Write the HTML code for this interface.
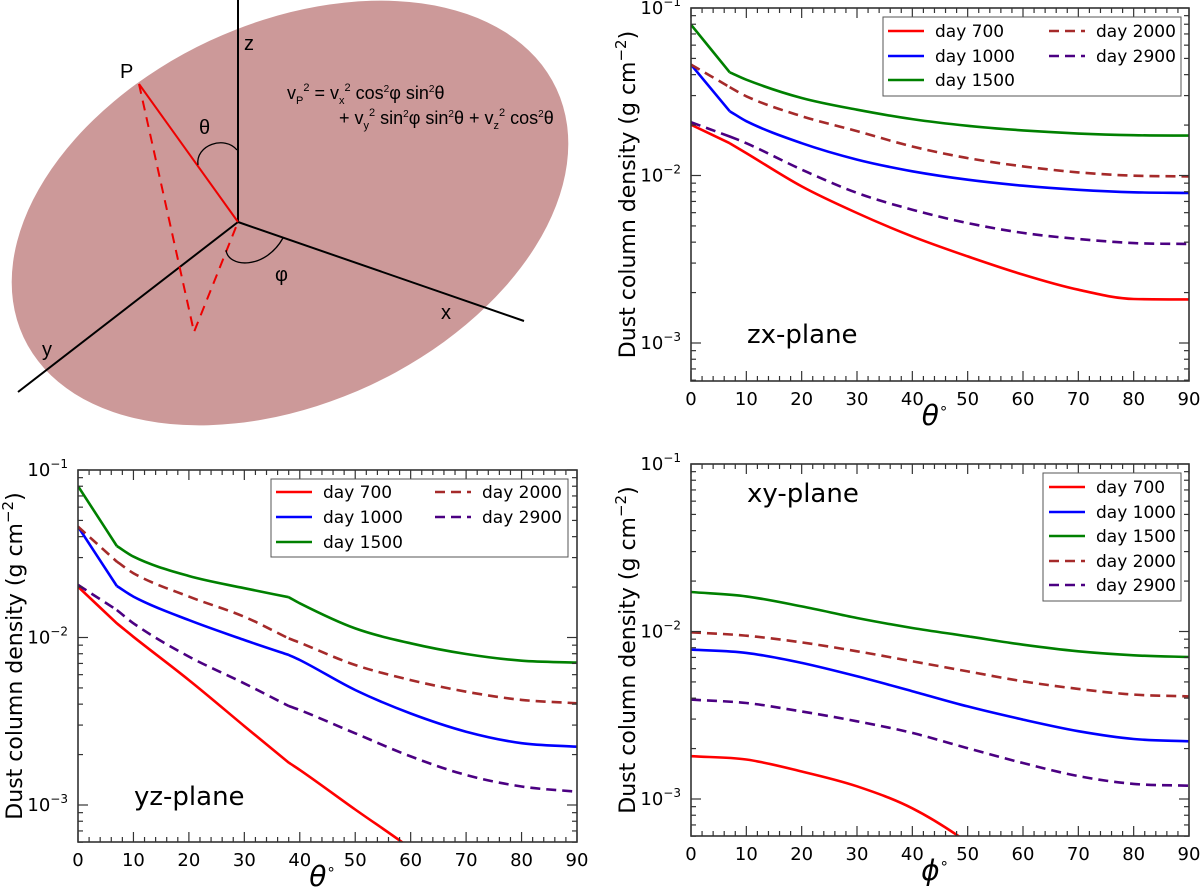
<!DOCTYPE html>
<html><head><meta charset="utf-8"><style>
html,body{margin:0;padding:0;background:#fff;overflow:hidden;width:1200px;height:895px;}
svg{display:block;font-family:"DejaVu Sans","Liberation Sans",sans-serif;}
</style></head><body>
<svg id="fig" width="1200" height="895" viewBox="0 0 1200 895" xmlns="http://www.w3.org/2000/svg">
<g id="diagram">
  <ellipse cx="290" cy="213" rx="294" ry="190" transform="rotate(-25 290 213)" fill="#cc9999"/>
  <line x1="238" y1="0" x2="238" y2="222" stroke="#000" stroke-width="2"/>
  <line x1="238" y1="222" x2="524" y2="321" stroke="#000" stroke-width="2"/>
  <line x1="238" y1="222" x2="18" y2="392" stroke="#000" stroke-width="2"/>
  <line x1="139" y1="84" x2="238" y2="222" stroke="#e00" stroke-width="2"/>
  <polyline points="139,84 194,332 238,222" fill="none" stroke="#e00" stroke-width="2" stroke-dasharray="10,7"/>
  <path d="M198,165 C195,145 225,135 237,150" fill="none" stroke="#000" stroke-width="1.3"/>
  <path d="M226,250 C228,268 265,270 283,238" fill="none" stroke="#000" stroke-width="1.3"/>
  <g font-family="Liberation Sans, sans-serif" font-size="20" fill="#000">
    <text x="244" y="50">z</text>
    <text x="120" y="78">P</text>
    <text x="199" y="134">θ</text>
    <text x="275" y="281">φ</text>
    <text x="441" y="319">x</text>
    <text x="42" y="356">y</text>
  </g>
  <g font-family="Liberation Sans, sans-serif" font-size="18" fill="#000">
    <text x="287" y="99">v<tspan font-size="11" dy="5">P</tspan><tspan font-size="11" dy="-13">2</tspan><tspan dy="8"> = v</tspan><tspan font-size="11" dy="5">x</tspan><tspan font-size="11" dy="-13">2</tspan><tspan dy="8"> cos</tspan><tspan font-size="10" dy="-7">2</tspan><tspan dy="7">φ sin</tspan><tspan font-size="10" dy="-7">2</tspan><tspan dy="7">θ</tspan></text>
    <text x="339" y="124">+ v<tspan font-size="11" dy="5">y</tspan><tspan font-size="11" dy="-13">2</tspan><tspan dy="8"> sin</tspan><tspan font-size="10" dy="-7">2</tspan><tspan dy="7">φ sin</tspan><tspan font-size="10" dy="-7">2</tspan><tspan dy="7">θ + v</tspan><tspan font-size="11" dy="5">z</tspan><tspan font-size="11" dy="-13">2</tspan><tspan dy="8"> cos</tspan><tspan font-size="10" dy="-7">2</tspan><tspan dy="7">θ</tspan></text>
  </g>
</g>
</svg>
<script>
// ---------- data ----------
const seriesNames = ["day 700","day 1000","day 1500","day 2000","day 2900"];
const seriesColors = ["#ff0000","#0000ff","#008000","#a52a2a","#4b0082"];
const seriesDashed = [false,false,false,true,true];

const zxAngles = [0,7,10,20,30,40,50,60,70,80,90];
const zxKinks = [7];
const zxDay700  = [0.0201,0.0156,0.0136,0.00861,0.00597,0.00433,0.00329,0.00256,0.00208,0.00183,0.00182];
const zxDay1000 = [0.0459,0.0242,0.0211,0.0156,0.01244,0.0106,0.00944,0.00869,0.00822,0.00794,0.00787];
const zxDay1500 = [0.0795,0.0413,0.0373,0.0290,0.0247,0.0217,0.0198,0.0186,0.0178,0.0174,0.0173];
const zxDay2000 = [0.0459,0.0337,0.0297,0.0226,0.0184,0.0149,0.0127,0.01134,0.01044,0.00997,0.00988];
const zxDay2900 = [0.0208,0.0171,0.0156,0.01084,0.00787,0.00625,0.0052,0.00454,0.00418,0.00395,0.0039];

const yzAngles = [0,7,10,20,30,38,40,50,60,70,80,90];
const yzKinks = [7,38];
const yzDay700  = [0.0201,0.01216,0.0101,0.00557,0.00296,0.00179,0.00162,0.00094,0.00055,0.0003,0.0002,0.00018];
const yzDay1000 = [0.0459,0.0203,0.01754,0.0127,0.00966,0.00787,0.00734,0.00486,0.00352,0.00274,0.00234,0.00223];
const yzDay1500 = [0.0802,0.0352,0.0304,0.0233,0.0197,0.0174,0.0160,0.01134,0.00923,0.00797,0.00727,0.00708];
const yzDay2000 = [0.0459,0.0284,0.0242,0.01754,0.0133,0.00988,0.00931,0.00685,0.00557,0.00475,0.00424,0.00405];
const yzDay2900 = [0.0206,0.0146,0.01216,0.00769,0.00532,0.0039,0.00369,0.00268,0.00195,0.00151,0.00129,0.0012];

const xyAngles = [0,10,20,30,40,50,60,70,80,90];
const xyKinks = [];
const xyDay700  = [0.0018,0.00172,0.00146,0.00119,0.00088,0.00055,0.0003,0.0002,0.00015,0.00014];
const xyDay1000 = [0.0078,0.00745,0.00649,0.0054,0.0044,0.00357,0.00298,0.00254,0.00228,0.00221];
const xyDay1500 = [0.0172,0.0162,0.01413,0.01204,0.0105,0.00936,0.00834,0.00762,0.00721,0.00704];
const xyDay2000 = [0.00989,0.00944,0.00861,0.00762,0.00664,0.00578,0.00504,0.00454,0.0042,0.0041];
const xyDay2900 = [0.00392,0.00374,0.00333,0.00291,0.00248,0.00201,0.00164,0.00137,0.00123,0.0012];

const xTicks = [0,10,20,30,40,50,60,70,80,90];
const yTickExps = [-1,-2,-3];

// ---------- drawing ----------
const NS="http://www.w3.org/2000/svg";
const svg=document.getElementById("fig");
function mk(tag,attrs,parent){const e=document.createElementNS(NS,tag);for(const k in attrs)e.setAttribute(k,attrs[k]);parent.appendChild(e);return e;}

function monoPath(P){
  const n=P.length; if(n<2) return "";
  const d=[],m=[];
  for(let i=0;i<n-1;i++) d.push((P[i+1][1]-P[i][1])/(P[i+1][0]-P[i][0]));
  m[0]=d[0]; m[n-1]=d[n-2];
  for(let i=1;i<n-1;i++){ m[i]=(d[i-1]*d[i]<=0)?0:(d[i-1]+d[i])/2; }
  for(let i=0;i<n-1;i++){
    if(d[i]===0){m[i]=0;m[i+1]=0;continue;}
    const a=m[i]/d[i],b=m[i+1]/d[i],s=a*a+b*b;
    if(s>9){const t=3/Math.sqrt(s);m[i]=t*a*d[i];m[i+1]=t*b*d[i];}
  }
  let s="M"+P[0][0].toFixed(1)+","+P[0][1].toFixed(1);
  for(let i=0;i<n-1;i++){
    const h=(P[i+1][0]-P[i][0])/3;
    s+=" C"+(P[i][0]+h).toFixed(1)+","+(P[i][1]+m[i]*h).toFixed(1)+" "+(P[i+1][0]-h).toFixed(1)+","+(P[i+1][1]-m[i+1]*h).toFixed(1)+" "+P[i+1][0].toFixed(1)+","+P[i+1][1].toFixed(1);
  }
  return s;
}

function panel(cfg){
  const g=mk("g",{},svg);
  
  
  const L=cfg.x0,R=cfg.x1,T=cfg.yTop,B=cfg.yBot,dec=cfg.dec;
  const xs=v=>L+(v/90)*(R-L);
  const ys=v=>T+(-1-Math.log10(v))*dec;
  const clipId="clip-"+cfg.name;
  const defs=mk("defs",{},g);
  const cp=mk("clipPath",{id:clipId},defs);
  mk("rect",{x:L,y:T,width:R-L,height:B-T},cp);
  const sg=mk("g",{"clip-path":"url(#"+clipId+")"},g);
  cfg.series.forEach((vals,i)=>{
    const pts=vals.map((v,j)=>[xs(cfg.angles[j]),ys(v)]);
    let segs=[],cur=[];
    pts.forEach((p,j)=>{cur.push(p); if(cfg.kinks.indexOf(cfg.angles[j])>=0){segs.push(cur);cur=[p];}});
    segs.push(cur);
    const dstr=segs.map(sg2=>monoPath(sg2)).join(" ");
    const pl=mk("path",{d:dstr,fill:"none",stroke:seriesColors[i],"stroke-width":2.6,"stroke-linejoin":"round"},sg);
    if(seriesDashed[i])pl.setAttribute("stroke-dasharray","10,6");
    
    
  });
  const tk=mk("g",{stroke:"#333","stroke-width":1.2},g);
  for(let d=0;d<=90;d+=2){
    const major=d%10===0;const len=major?10:5;const x=xs(d);
    mk("line",{x1:x,y1:B,x2:x,y2:B-len},tk);
    mk("line",{x1:x,y1:T,x2:x,y2:T+len},tk);
  }
  for(let e=-1;e>=-4;e--){
    for(let m=1;m<10;m++){
      const v=m*Math.pow(10,e);const y=ys(v);
      if(y<T-0.5||y>B+0.5)continue;
      const len=m===1?10:5;
      mk("line",{x1:L,y1:y,x2:L+len,y2:y},tk);
      mk("line",{x1:R,y1:y,x2:R-len,y2:y},tk);
    }
  }
  mk("rect",{x:L,y:T,width:R-L,height:B-T,fill:"none",stroke:"#333","stroke-width":1.6},g);
  xTicks.forEach(t=>{
    const tx=mk("text",{x:xs(t),y:B+24,"text-anchor":"middle","font-size":18,fill:"#000"},g);
    tx.textContent=t;
    
    
  });
  yTickExps.forEach(e=>{
    const y=ys(Math.pow(10,e));
    const tx=mk("text",{x:L-10,y:y+6,"text-anchor":"end","font-size":18,fill:"#000"},g);
    
    
    const a=mk("tspan",{},tx);a.textContent="10";
    const b=mk("tspan",{"font-size":12,dy:-8},tx);b.textContent="−"+(-e);
  });
  const yt=mk("text",{x:0,y:0,"text-anchor":"middle","font-size":22,fill:"#000",transform:"translate("+(L-56)+","+((T+B)/2)+") rotate(-90)"},g);
  
  
  const t1=mk("tspan",{},yt);t1.textContent="Dust column density (g cm";
  const t2=mk("tspan",{"font-size":15,dy:-9},yt);t2.textContent="−2";
  const t3=mk("tspan",{dy:9},yt);t3.textContent=")";
  const xt=mk("text",{x:(L+R)/2-5,y:B+44,"text-anchor":"middle","font-size":28,"font-style":"italic",fill:"#000"},g);
  
  
  const x1=mk("tspan",{},xt);x1.textContent=cfg.xlabel;
  const x2=mk("tspan",{"font-size":15,dy:-12,"font-style":"normal"},xt);x2.textContent="∘";
  const pl=mk("text",{x:cfg.planeX,y:cfg.planeY,"font-size":26,fill:"#000"},g);
  pl.textContent=cfg.plane;
  
  
  const lg=cfg.legend;
  const lgG=mk("g",{},g);
  
  
  mk("rect",{x:lg.x,y:lg.y,width:lg.w,height:lg.h,fill:"#fff",stroke:"#555","stroke-width":1},lgG);
  lg.pos.forEach((p,i)=>{
    const ln=mk("line",{x1:p[0],y1:p[1],x2:p[0]+36,y2:p[1],stroke:seriesColors[i],"stroke-width":2.6},lgG);
    if(seriesDashed[i])ln.setAttribute("stroke-dasharray","10,6");
    const tx=mk("text",{x:p[0]+47,y:p[1]+6,"font-size":17,fill:"#000"},lgG);
    tx.textContent=seriesNames[i];
    
    
  });
}

panel({name:"zx-plane-chart",x0:691,x1:1189,yTop:8,yBot:381,dec:167.5,angles:zxAngles,kinks:zxKinks,
  series:[zxDay700,zxDay1000,zxDay1500,zxDay2000,zxDay2900],xlabel:"θ",plane:"zx-plane",planeX:747,planeY:343,
  legend:{x:883,y:17,w:298,h:79,pos:[[888,31],[888,56],[888,80],[1049,31],[1049,56]]}});
panel({name:"yz-plane-chart",x0:78,x1:577,yTop:470,yBot:842,dec:167.5,angles:yzAngles,kinks:yzKinks,
  series:[yzDay700,yzDay1000,yzDay1500,yzDay2000,yzDay2900],xlabel:"θ",plane:"yz-plane",planeX:134,planeY:805,
  legend:{x:271,y:479,w:297,h:78,pos:[[276,492],[276,517],[276,542],[435,492],[435,517]]}});
panel({name:"xy-plane-chart",x0:691,x1:1189,yTop:464,yBot:836,dec:167.5,angles:xyAngles,kinks:xyKinks,
  series:[xyDay700,xyDay1000,xyDay1500,xyDay2000,xyDay2900],xlabel:"ϕ",plane:"xy-plane",planeX:747,planeY:502,
  legend:{x:1043,y:473,w:138,h:128,pos:[[1049,487],[1049,512],[1049,536],[1049,561],[1049,585]]}});
</script>
</body></html>
